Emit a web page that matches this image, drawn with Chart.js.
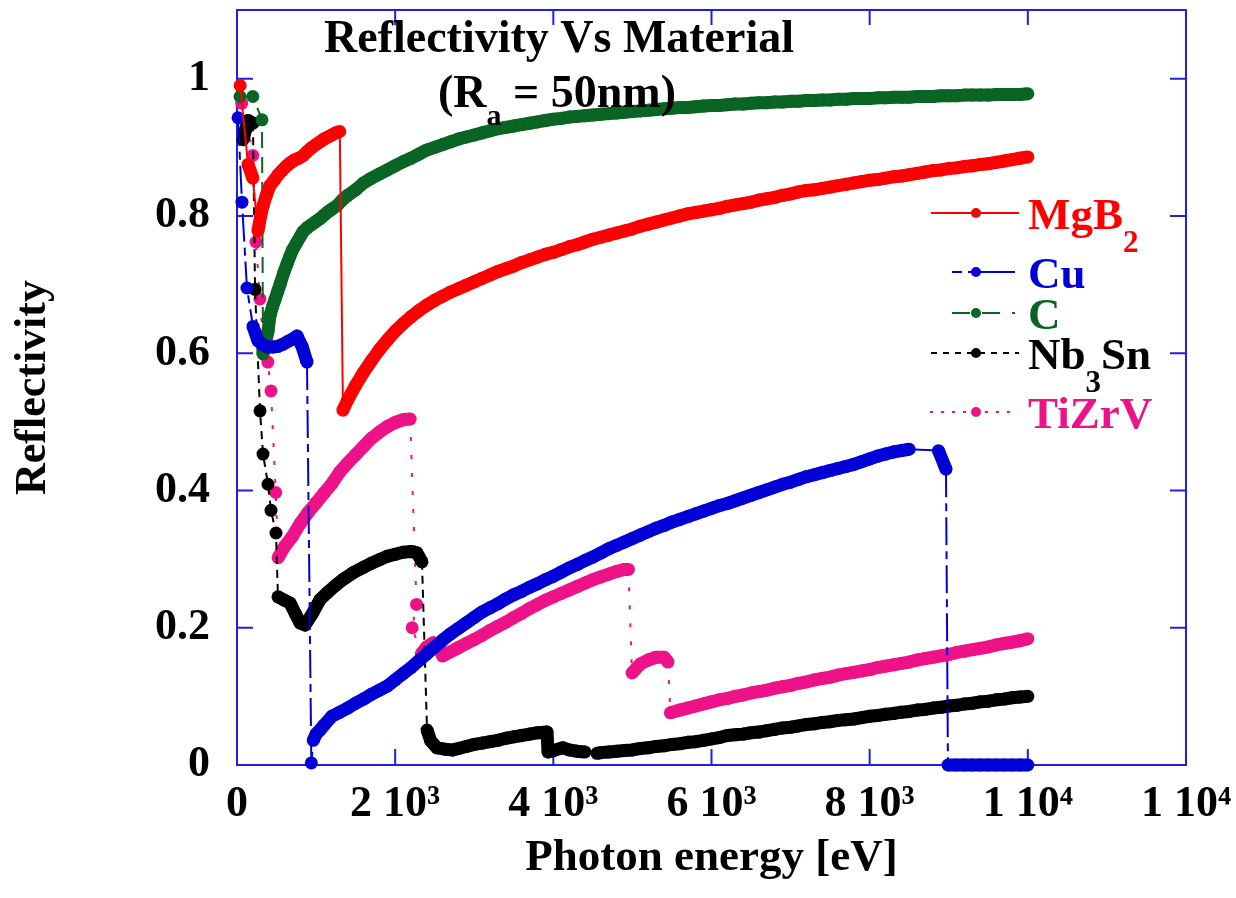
<!DOCTYPE html>
<html><head><meta charset="utf-8">
<script src="https://cdn.jsdelivr.net/npm/chart.js@4.4.1/dist/chart.umd.min.js"></script>
<style>html,body{margin:0;padding:0;background:#fff;}canvas{display:block;}</style>
</head><body>
<canvas id="c" width="1236" height="898"></canvas>
<script>
// ---- data (photon energy [eV], reflectivity) ----
const xTickValues = [0, 2000, 4000, 6000, 8000, 10000, 12000];
const xTickLabels = ['0', '2 10³', '4 10³', '6 10³', '8 10³', '1 10⁴', '1 10⁴'];
const yTickValues = [0, 0.2, 0.4, 0.6, 0.8, 1];
const yTickLabels = ['0', '0.2', '0.4', '0.6', '0.8', '1'];
const seriesNames = ['MgB2', 'Cu', 'C', 'Nb3Sn', 'TiZrV'];

const mgb2 = [[40,.990],[140,.875],[200,.855],[265,.778],[300,.800],[330,.815],[370,.830],[417,.844],[470,.852],[520,.860],[570,.866],[620,.872],[670,.877],[720,.881],[780,.884],[838,.888],[890,.894],[940,.899],[1000,.904],[1050,.908],[1100,.912],[1150,.915],[1200,.918],[1250,.921],[1300,.923],
[1340,.517],[1400,.532],[1500,.553],[1600,.572],[1700,.589],[1800,.605],[1900,.619],[2000,.632],[2100,.643],[2200,.653],[2300,.662],[2400,.670],[2500,.677],[2600,.683],[2700,.689],[2800,.694],[2900,.699],[3000,.704],[3100,.709],[3200,.714],[3300,.719],[3400,.723],[3500,.727],[3600,.732],[3700,.736],[3800,.740],[3900,.744],[4000,.747],[4100,.751],[4200,.755],[4300,.758],[4400,.762],[4500,.766],[4600,.769],[4700,.772],[4800,.775],[4900,.778],[5000,.781],[5100,.785],[5200,.788],[5300,.791],[5400,.794],[5500,.797],[5600,.800],[5700,.803],[5800,.805],[5900,.807],[6000,.809],[6100,.811],[6200,.814],[6300,.816],[6400,.818],[6500,.820],[6600,.823],[6700,.825],[6800,.827],[6900,.830],[7000,.832],[7100,.835],[7200,.837],[7300,.838],[7400,.840],[7500,.842],[7600,.844],[7700,.846],[7800,.848],[7900,.850],[8000,.852],[8100,.853],[8200,.855],[8300,.857],[8400,.858],[8500,.860],[8600,.862],[8700,.864],[8800,.866],[8900,.867],[9000,.869],[9100,.870],[9200,.872],[9300,.873],[9400,.875],[9500,.876],[9600,.878],[9700,.880],[9800,.882],[9900,.884],[10000,.886]];

const cu = [[13,.943],[63,.820],[126,.695],[202,.639],[266,.618],[330,.612],[392,.609],[455,.609],[518,.610],[580,.613],[640,.617],[695,.620],[759,.625],[822,.610],[885,.587],
[940,.003],[965,.036],[1000,.045],[1050,.051],[1100,.058],[1200,.071],[1300,.077],[1400,.083],[1500,.090],[1600,.096],[1700,.103],[1800,.109],[1900,.115],[2000,.124],[2100,.133],[2200,.142],[2300,.152],[2400,.162],[2500,.172],[2600,.182],[2700,.191],[2800,.199],[2900,.207],[3000,.215],[3100,.223],[3200,.229],[3300,.235],[3400,.242],[3500,.248],[3600,.253],[3700,.259],[3800,.264],[3900,.270],[4000,.275],[4100,.281],[4200,.287],[4300,.292],[4400,.298],[4500,.303],[4600,.309],[4700,.315],[4800,.320],[4900,.325],[5000,.330],[5100,.335],[5200,.340],[5300,.345],[5400,.349],[5500,.354],[5600,.358],[5700,.362],[5800,.366],[5900,.370],[6000,.374],[6100,.378],[6200,.381],[6300,.385],[6400,.389],[6500,.393],[6600,.397],[6700,.401],[6800,.405],[6900,.409],[7000,.412],[7100,.416],[7200,.420],[7300,.423],[7400,.426],[7500,.429],[7600,.432],[7700,.435],[7800,.438],[7900,.442],[8000,.446],[8100,.450],[8200,.453],[8300,.456],[8400,.458],[8500,.460],[8870,.458],[8965,.431],
[8990,0],[9100,0],[9200,0],[9300,0],[9400,0],[9500,0],[9600,0],[9700,0],[9800,0],[9900,0],[10000,0]];

const carbon = [[38,.974],[200,.974],[316,.940],[329,.599],[360,.615],[392,.632],[417,.655],[450,.668],[480,.678],[515,.690],[550,.702],[590,.717],[632,.730],[665,.740],[700,.750],[750,.760],[800,.770],[835,.777],[890,.783],[950,.788],[1000,.792],[1050,.796],[1100,.801],[1150,.806],[1200,.810],[1265,.815],[1330,.823],[1400,.830],[1500,.838],[1600,.848],[1700,.855],[1800,.861],[1900,.867],[2000,.873],[2100,.879],[2200,.884],[2300,.890],[2400,.896],[2500,.900],[2600,.904],[2700,.908],[2800,.912],[2900,.915],[3000,.918],[3100,.921],[3200,.924],[3300,.927],[3400,.929],[3500,.931],[3600,.933],[3700,.935],[3800,.937],[3900,.939],[4000,.941],[4100,.942],[4200,.944],[4300,.945],[4400,.946],[4500,.947],[4600,.948],[4700,.949],[4800,.950],[4900,.951],[5000,.952],[5100,.953],[5200,.954],[5300,.955],[5400,.956],[5500,.957],[5600,.958],[5700,.958],[5800,.959],[5900,.960],[6000,.961],[6100,.961],[6200,.962],[6300,.963],[6400,.963],[6500,.964],[6600,.965],[6700,.965],[6800,.966],[6900,.966],[7000,.967],[7100,.967],[7200,.968],[7300,.968],[7400,.969],[7500,.969],[7600,.970],[7700,.970],[7800,.971],[7900,.971],[8000,.971],[8100,.972],[8200,.972],[8300,.973],[8400,.973],[8500,.973],[8600,.974],[8700,.974],[8800,.974],[8900,.975],[9000,.975],[9100,.975],[9200,.976],[9300,.976],[9400,.976],[9500,.976],[9600,.977],[9700,.977],[9800,.977],[9900,.977],[10000,.978]];

const nb3sn = [[76,.911],[139,.939],[202,.935],[228,.693],[291,.516],[329,.453],[392,.409],[430,.371],[493,.338],[518,.245],[600,.240],[670,.236],[740,.220],[797,.207],[860,.204],[950,.220],[1050,.241],[1150,.252],[1250,.262],[1350,.271],[1467,.280],[1600,.288],[1700,.294],[1800,.299],[1897,.304],[2000,.307],[2100,.310],[2200,.311],[2276,.309],[2339,.296],
[2403,.051],[2450,.035],[2529,.025],[2631,.023],[2731,.022],[2800,.024],[2900,.027],[3000,.030],[3100,.032],[3200,.034],[3300,.036],[3400,.039],[3500,.041],[3600,.043],[3700,.045],[3800,.047],[3920,.048],
[3933,.019],[4000,.021],[4122,.025],[4200,.022],[4300,.020],[4400,.019],[4552,.017],[4600,.018],[4700,.019],[4800,.020],[4900,.021],[5000,.022],[5100,.024],[5200,.025],[5300,.027],[5400,.028],[5500,.030],[5600,.031],[5700,.033],[5800,.034],[5900,.036],[6000,.038],[6100,.040],[6200,.043],[6300,.044],[6400,.045],[6500,.047],[6600,.048],[6700,.050],[6800,.052],[6900,.054],[7000,.055],[7100,.057],[7200,.059],[7300,.060],[7400,.062],[7500,.063],[7600,.065],[7700,.066],[7800,.067],[7900,.069],[8000,.071],[8100,.072],[8200,.074],[8300,.075],[8400,.077],[8500,.078],[8600,.080],[8700,.081],[8800,.083],[8900,.084],[9000,.086],[9100,.087],[9200,.089],[9300,.090],[9400,.092],[9500,.093],[9600,.095],[9700,.096],[9800,.098],[9900,.099],[10000,.100]];

const tizrv = [[60,.964],[140,.930],[200,.888],[240,.762],[290,.679],[330,.620],[390,.587],[430,.545],[490,.397],[520,.302],[600,.318],[700,.333],[800,.352],[900,.368],[1000,.382],[1100,.396],[1200,.410],[1300,.427],[1400,.440],[1500,.452],[1600,.464],[1700,.476],[1800,.485],[1900,.493],[2000,.499],[2100,.503],[2190,.504],
[2270,.234],[2215,.200],[2330,.162],[2400,.172],[2480,.178],[2540,.175],[2600,.159],[2700,.165],[2800,.171],[2900,.177],[3000,.183],[3100,.189],[3200,.196],[3300,.202],[3400,.208],[3500,.215],[3600,.221],[3700,.228],[3800,.234],[3900,.240],[4000,.245],[4100,.250],[4200,.255],[4300,.260],[4400,.265],[4500,.270],[4600,.274],[4700,.278],[4800,.282],[4900,.285],[4950,.285],
[4995,.134],[5100,.147],[5200,.153],[5300,.157],[5400,.157],[5450,.150],
[5480,.076],[5600,.080],[5700,.083],[5800,.086],[5900,.089],[6000,.092],[6100,.095],[6200,.097],[6300,.100],[6400,.102],[6500,.105],[6600,.107],[6700,.109],[6800,.112],[6900,.114],[7000,.116],[7100,.119],[7200,.121],[7300,.124],[7400,.126],[7500,.128],[7600,.131],[7700,.133],[7800,.135],[7900,.137],[8000,.139],[8100,.142],[8200,.144],[8300,.146],[8400,.148],[8500,.150],[8600,.153],[8700,.155],[8800,.157],[8900,.159],[9000,.161],[9100,.164],[9200,.166],[9300,.168],[9400,.170],[9500,.172],[9600,.175],[9700,.177],[9800,.179],[9900,.181],[10000,.184]];

// ---- styles ----
const FONT = 'Liberation Serif, Times New Roman, serif';
const styles = [
  {color: '#ff0000', dash: [], legendDash: []},
  {color: '#0000d6', dash: [28, 6, 8, 6], legendDash: [10, 6, 60, 0]},
  {color: '#0a6423', dash: [16, 9], legendDash: [18, 12]},
  {color: '#000000', dash: [8, 6], legendDash: [6, 6]},
  {color: '#ee1289', dash: [4, 14], legendDash: [3, 8]}
];
const seriesData = [mgb2, cu, carbon, nb3sn, tizrv];

// a step between neighbouring samples is drawn as a dense band, an absorption-edge jump as a thin styled line
const isJump = c => Math.abs(c.p1.parsed.y - c.p0.parsed.y) > 0.03 || Math.abs(c.p1.parsed.x - c.p0.parsed.x) > 150;

const datasets = seriesData.map((d, i) => ({
  label: seriesNames[i],
  data: d.map(p => ({x: p[0], y: p[1]})),
  borderColor: styles[i].color,
  backgroundColor: styles[i].color,
  borderWidth: 2,
  borderDash: styles[i].dash,
  borderJoinStyle: 'round',
  segment: {
    borderWidth: c => isJump(c) ? 2 : 13,
    borderDash: c => isJump(c) ? styles[i].dash : []
  },
  pointRadius: 6.5,
  pointBorderWidth: 0,
  pointBackgroundColor: styles[i].color,
  tension: 0,
  clip: false
}));

const framePlugin = {
  id: 'frame',
  beforeDatasetsDraw(chart) {
    const {ctx, chartArea: a, scales: {x, y}} = chart;
    ctx.save();
    ctx.strokeStyle = '#1f1fe6';
    ctx.lineWidth = 2;
    ctx.strokeRect(a.left, a.top, a.right - a.left, a.bottom - a.top);
    ctx.beginPath();
    x.ticks.forEach(t => {
      const px = x.getPixelForValue(t.value);
      ctx.moveTo(px, a.bottom); ctx.lineTo(px, a.bottom - 16);
      ctx.moveTo(px, a.top); ctx.lineTo(px, a.top + 15);
    });
    y.ticks.forEach(t => {
      const py = y.getPixelForValue(t.value);
      ctx.moveTo(a.left, py); ctx.lineTo(a.left + 16, py);
      ctx.moveTo(a.right, py); ctx.lineTo(a.right - 16, py);
    });
    ctx.stroke();
    ctx.restore();
  }
};

function drawParts(ctx, parts, x, baseline) {
  let cx = x;
  parts.forEach(([t, sz, dy]) => {
    ctx.font = 'bold ' + sz + 'px ' + FONT;
    ctx.fillText(t, cx, baseline + dy);
    cx += ctx.measureText(t).width;
  });
}
function partsWidth(ctx, parts) {
  let w = 0;
  parts.forEach(([t, sz]) => { ctx.font = 'bold ' + sz + 'px ' + FONT; w += ctx.measureText(t).width; });
  return w;
}

const annotPlugin = {
  id: 'annot',
  afterDatasetsDraw(chart) {
    const {ctx} = chart;
    ctx.save();
    ctx.fillStyle = '#000';
    ctx.textBaseline = 'alphabetic';
    const t1 = [['Reflectivity Vs Material', 46, 0]];
    drawParts(ctx, t1, 559 - partsWidth(ctx, t1) / 2, 52);
    const t2 = [['(R', 46, 0], ['a', 30, 18], [' = 50nm)', 46, 0]];
    drawParts(ctx, t2, 557 - partsWidth(ctx, t2) / 2, 107);

    const entries = [
      {y: 213, x0: 931, x1: 1019, parts: [['MgB', 45, 0], ['2', 31, 23]]},
      {y: 272, x0: 952, x1: 1015, parts: [['Cu', 45, 0]]},
      {y: 313, x0: 952, x1: 1015, parts: [['C', 45, 0]]},
      {y: 353, x0: 931, x1: 1019, parts: [['Nb', 45, 0], ['3', 31, 23], ['Sn', 45, 0]]},
      {y: 412, x0: 930, x1: 1017, parts: [['TiZrV', 45, 0]]}
    ];
    entries.forEach((e, i) => {
      const st = styles[i];
      ctx.strokeStyle = st.color;
      ctx.lineWidth = 2;
      ctx.setLineDash(st.legendDash);
      ctx.beginPath();
      ctx.moveTo(e.x0, e.y); ctx.lineTo(e.x1, e.y);
      ctx.stroke();
      ctx.setLineDash([]);
      ctx.fillStyle = st.color;
      ctx.beginPath();
      ctx.arc(976, e.y, 5, 0, Math.PI * 2);
      ctx.fill();
      drawParts(ctx, e.parts, 1028, e.y + 16);
    });
    ctx.restore();
  }
};

const zeroPad = s => { s.paddingTop = 0; s.paddingBottom = 0; s.paddingLeft = 0; s.paddingRight = 0; };
const tickFont = {family: FONT, weight: 'bold', size: 44};
new Chart(document.getElementById('c').getContext('2d'), {
  type: 'line',
  data: {datasets},
  options: {
    responsive: false,
    animation: false,
    devicePixelRatio: 1,
    layout: {padding: {top: 10, right: 50, left: 0, bottom: 0}},
    plugins: {legend: {display: false}, tooltip: {enabled: false}, title: {display: false}},
    scales: {
      x: {
        type: 'linear', min: 0, max: 12000,
        afterBuildTicks: s => { s.ticks = xTickValues.map(v => ({value: v})); },
        ticks: {autoSkip: false, maxRotation: 0, minRotation: 0, padding: 13, color: '#000', font: tickFont,
          callback: (v, i) => xTickLabels[i]},
        grid: {display: false, drawTicks: false},
        border: {display: false},
        title: {display: true, text: 'Photon energy [eV]', color: '#000',
          font: {family: FONT, weight: 'bold', size: 45, lineHeight: 1}, padding: {top: 0, bottom: 17}},
        afterFit: s => { s.height = 133; zeroPad(s); }
      },
      y: {
        type: 'linear', min: 0, max: 1.1,
        afterBuildTicks: s => { s.ticks = yTickValues.map(v => ({value: v})); },
        ticks: {autoSkip: false, padding: 27, color: '#000', font: tickFont,
          callback: (v, i) => yTickLabels[i]},
        grid: {display: false, drawTicks: false},
        border: {display: false},
        title: {display: true, text: 'Reflectivity', color: '#000',
          font: {family: FONT, weight: 'bold', size: 44, lineHeight: 1}, padding: {top: 12, bottom: 0}},
        afterFit: s => { s.width = 237; zeroPad(s); }
      }
    }
  },
  plugins: [framePlugin, annotPlugin]
});
</script>
</body></html>
